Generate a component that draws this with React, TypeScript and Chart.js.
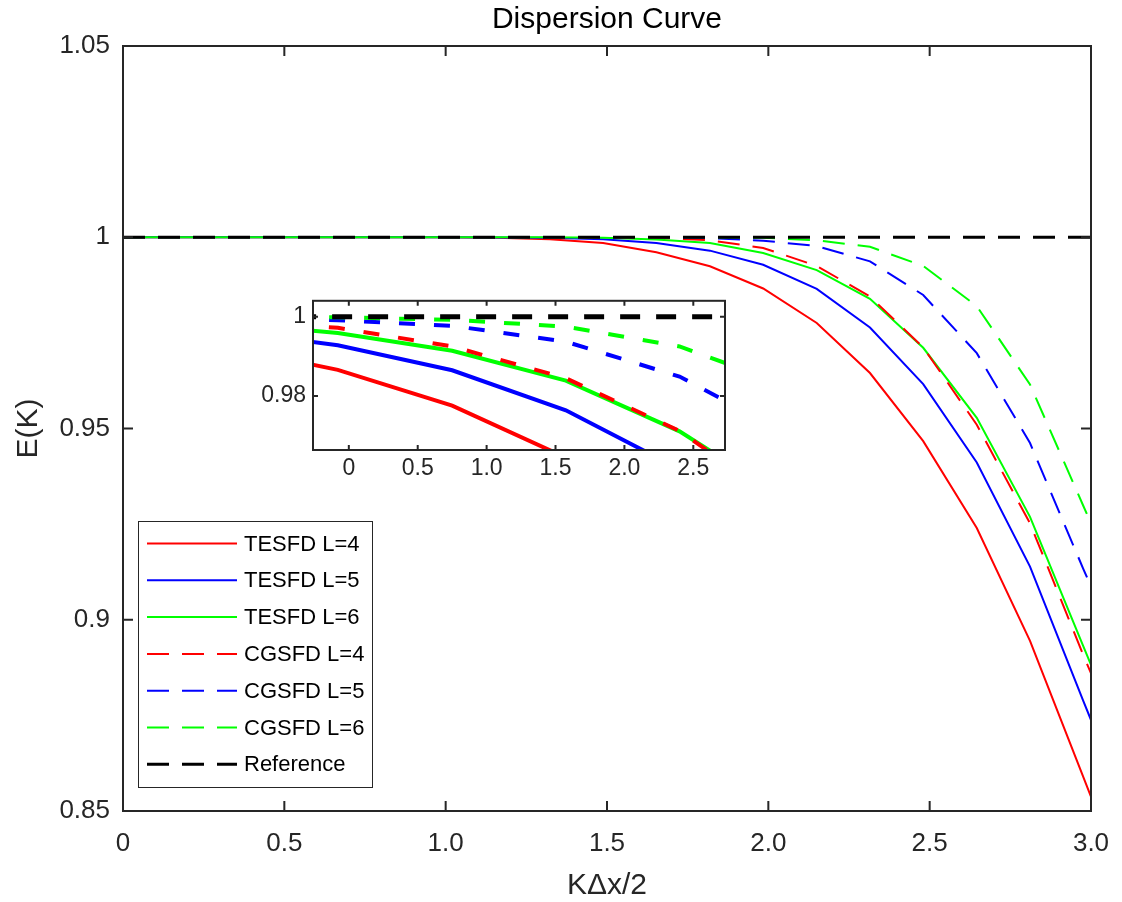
import React, { useEffect, useRef } from 'react';
import { Chart, registerables } from 'chart.js';

Chart.register(...registerables);

// ---------- data ----------
const xValues = [0, 0.165, 0.331, 0.496, 0.661, 0.827, 0.992, 1.158, 1.323, 1.488, 1.653, 1.819, 1.984, 2.15, 2.315, 2.48, 2.646, 2.811, 2.976, 3.142];

const tesfdL4 = [1, 1, 1, 1, 1, 1, 0.99997, 0.9999, 0.9995, 0.9985, 0.9961, 0.9924, 0.9866, 0.9776, 0.9645, 0.9467, 0.924, 0.8945, 0.8589, 0.823];
const tesfdL5 = [1, 1, 1, 1, 1, 1, 1, 0.99995, 0.99985, 0.9995, 0.9985, 0.9965, 0.9928, 0.9865, 0.9764, 0.9616, 0.9411, 0.9139, 0.8788, 0.8441];
const tesfdL6 = [1, 1, 1, 1, 1, 1, 1, 1, 0.99997, 0.99985, 0.9994, 0.9985, 0.9959, 0.9914, 0.9839, 0.9711, 0.9528, 0.9269, 0.8931, 0.8593];
const cgsfdL4 = [1, 1, 1, 1, 1, 1, 1, 1, 0.99998, 0.99993, 0.9999, 0.9992, 0.9972, 0.9925, 0.9845, 0.9712, 0.951, 0.9252, 0.8908, 0.8577];
const cgsfdL5 = [1, 1, 1, 1, 1, 1, 1, 1, 1, 1, 0.99997, 0.9998, 0.9991, 0.9977, 0.9937, 0.9849, 0.9697, 0.9462, 0.9133, 0.8814];
const cgsfdL6 = [1, 1, 1, 1, 1, 1, 1, 1, 1, 1, 1, 0.99997, 0.99985, 0.9992, 0.9975, 0.9925, 0.982, 0.9615, 0.9298, 0.8982];
const referenceValues = [1, 1, 1, 1, 1, 1, 1, 1, 1, 1, 1, 1, 1, 1, 1, 1, 1, 1, 1, 1];

const seriesLabels = ['TESFD L=4', 'TESFD L=5', 'TESFD L=6', 'CGSFD L=4', 'CGSFD L=5', 'CGSFD L=6', 'Reference'];

// main axes ticks
const xTickValues = [0, 0.5, 1, 1.5, 2, 2.5, 3];
const xTickLabels = ['0', '0.5', '1.0', '1.5', '2.0', '2.5', '3.0'];
const yTickValues = [0.85, 0.9, 0.95, 1, 1.05];
const yTickLabels = ['0.85', '0.9', '0.95', '1', '1.05'];

// inset axes ticks
const insetXTickValues = [2.0, 2.1, 2.2, 2.3, 2.4, 2.5];
const insetXTickLabels = ['0', '0.5', '1.0', '1.5', '2.0', '2.5'];
const insetYTickValues = [0.98, 1];
const insetYTickLabels = ['0.98', '1'];

// ---------- styles ----------
const seriesValues = [tesfdL4, tesfdL5, tesfdL6, cgsfdL4, cgsfdL5, cgsfdL6, referenceValues];
const seriesColors = ['#ff0000', '#0000ff', '#00ff00', '#ff0000', '#0000ff', '#00ff00', '#000000'];
const seriesDashed = [false, false, false, true, true, true, true];

const FONT = '"Liberation Sans", Arial, Helvetica, sans-serif';
const AXIS_COLOR = '#262626';

type Style = { width: number; refWidth: number; dash: number[]; refDash: number[] };

function makeDatasets(st: Style) {
  return seriesLabels.map((label, i) => {
    const isRef = i === seriesLabels.length - 1;
    return {
      label,
      data: xValues.map((x, j) => ({ x, y: seriesValues[i][j] })),
      borderColor: seriesColors[i],
      backgroundColor: seriesColors[i],
      borderWidth: isRef ? st.refWidth : st.width,
      borderDash: seriesDashed[i] ? (isRef ? st.refDash : st.dash) : [],
      pointRadius: 0,
      pointHoverRadius: 0,
      tension: 0,
      fill: false,
      clip: 0,
      order: seriesLabels.length - 1 - i,
    };
  });
}

function framePlugin(opts: { tickLen: number; bg: boolean; legend: boolean; texts: boolean }) {
  return {
    id: 'frameDeco',
    beforeDatasetsDraw(chart: any) {
      if (!opts.bg) return;
      const { ctx, chartArea: a } = chart;
      ctx.save();
      ctx.fillStyle = '#ffffff';
      ctx.fillRect(a.left, a.top, a.right - a.left, a.bottom - a.top);
      ctx.restore();
    },
    afterDraw(chart: any) {
      const { ctx, chartArea: a, scales } = chart;
      ctx.save();
      ctx.strokeStyle = AXIS_COLOR;
      ctx.lineWidth = 2;
      ctx.setLineDash([]);
      ctx.strokeRect(a.left, a.top, a.right - a.left, a.bottom - a.top);
      const tl = opts.tickLen;
      ctx.beginPath();
      scales.x.ticks.forEach((t: any) => {
        const px = scales.x.getPixelForValue(t.value);
        ctx.moveTo(px, a.bottom);
        ctx.lineTo(px, a.bottom - tl);
        ctx.moveTo(px, a.top);
        ctx.lineTo(px, a.top + tl);
      });
      scales.y.ticks.forEach((t: any) => {
        const py = scales.y.getPixelForValue(t.value);
        ctx.moveTo(a.left, py);
        ctx.lineTo(a.left + tl, py);
        ctx.moveTo(a.right, py);
        ctx.lineTo(a.right - tl, py);
      });
      ctx.stroke();

      if (opts.texts) {
        const cx = (a.left + a.right) / 2;
        ctx.fillStyle = '#000000';
        ctx.font = `30px ${FONT}`;
        ctx.textAlign = 'center';
        ctx.textBaseline = 'middle';
        ctx.fillText('Dispersion Curve', cx, 20);
        ctx.fillStyle = AXIS_COLOR;
        ctx.font = `30px ${FONT}`;
        ctx.fillText('KΔx/2', cx, 886);
        ctx.save();
        ctx.translate(29, (a.top + a.bottom) / 2);
        ctx.rotate(-Math.PI / 2);
        ctx.fillText('E(K)', 0, 0);
        ctx.restore();
      }

      if (opts.legend) {
        const bx = 138, by = 521, bw = 234, bh = 266;
        ctx.fillStyle = '#ffffff';
        ctx.fillRect(bx, by, bw, bh);
        ctx.strokeStyle = AXIS_COLOR;
        ctx.lineWidth = 1;
        ctx.strokeRect(bx + 0.5, by + 0.5, bw, bh);
        ctx.font = `22px ${FONT}`;
        ctx.textAlign = 'left';
        ctx.textBaseline = 'middle';
        chart.data.datasets.forEach((ds: any, i: number) => {
          const y = by + 22.5 + i * 36.8;
          ctx.strokeStyle = ds.borderColor;
          ctx.lineWidth = ds.borderWidth;
          ctx.setLineDash(ds.borderDash || []);
          ctx.beginPath();
          ctx.moveTo(147, y);
          ctx.lineTo(237, y);
          ctx.stroke();
          ctx.setLineDash([]);
          ctx.fillStyle = '#000000';
          ctx.fillText(ds.label, 244, y + 1);
        });
      }
      ctx.restore();
    },
  };
}

function mainConfig(): any {
  return {
    type: 'line',
    data: { datasets: makeDatasets({ width: 2, refWidth: 3, dash: [22, 13], refDash: [22, 13] }) },
    options: {
      animation: false,
      responsive: false,
      devicePixelRatio: 1,
      events: [],
      layout: { padding: { left: 0, right: 31, top: 46, bottom: 31 } },
      plugins: { legend: { display: false }, tooltip: { enabled: false }, title: { display: false } },
      scales: {
        x: {
          type: 'linear',
          min: 0,
          max: 3,
          afterBuildTicks: (s: any) => { s.ticks = xTickValues.map((v) => ({ value: v })); },
          afterFit: (s: any) => { s.height = 60; },
          ticks: {
            callback: (_v: any, i: number) => xTickLabels[i],
            font: { size: 26, family: FONT },
            color: AXIS_COLOR,
            padding: 2,
            maxRotation: 0,
            autoSkip: false,
          },
          grid: { display: false, drawTicks: true, tickLength: 15 },
          border: { display: false },
        },
        y: {
          type: 'linear',
          min: 0.85,
          max: 1.05,
          afterBuildTicks: (s: any) => { s.ticks = yTickValues.map((v) => ({ value: v })); },
          afterFit: (s: any) => { s.width = 123; },
          ticks: {
            callback: (_v: any, i: number) => yTickLabels[i],
            font: { size: 26, family: FONT },
            color: AXIS_COLOR,
            padding: 2,
            autoSkip: false,
          },
          grid: { display: false, drawTicks: true, tickLength: 11 },
          border: { display: false },
        },
      },
    },
    plugins: [framePlugin({ tickLen: 10, bg: false, legend: true, texts: true })],
  };
}

function insetConfig(): any {
  return {
    type: 'line',
    data: { datasets: makeDatasets({ width: 4, refWidth: 5, dash: [16, 19], refDash: [20, 16] }) },
    options: {
      animation: false,
      responsive: false,
      devicePixelRatio: 1,
      events: [],
      layout: { padding: { left: 0, right: 15, top: 11, bottom: 0 } },
      plugins: { legend: { display: false }, tooltip: { enabled: false }, title: { display: false } },
      scales: {
        x: {
          type: 'linear',
          min: 1.948,
          max: 2.546,
          afterBuildTicks: (s: any) => { s.ticks = insetXTickValues.map((v) => ({ value: v })); },
          afterFit: (s: any) => { s.height = 40; },
          ticks: {
            callback: (_v: any, i: number) => insetXTickLabels[i],
            font: { size: 23, family: FONT },
            color: AXIS_COLOR,
            padding: 5,
            maxRotation: 0,
            autoSkip: false,
          },
          grid: { display: false, drawTicks: false },
          border: { display: false },
        },
        y: {
          type: 'linear',
          min: 0.9664,
          max: 1.004,
          afterBuildTicks: (s: any) => { s.ticks = insetYTickValues.map((v) => ({ value: v })); },
          afterFit: (s: any) => { s.width = 63; },
          ticks: {
            callback: (_v: any, i: number) => insetYTickLabels[i],
            font: { size: 23, family: FONT },
            color: AXIS_COLOR,
            padding: 7,
            autoSkip: false,
          },
          grid: { display: false, drawTicks: false },
          border: { display: false },
        },
      },
    },
    plugins: [framePlugin({ tickLen: 5, bg: true, legend: false, texts: false })],
  };
}

export default function App() {
  const mainRef = useRef<HTMLCanvasElement>(null);
  const insetRef = useRef<HTMLCanvasElement>(null);

  useEffect(() => {
    const main = new Chart(mainRef.current as HTMLCanvasElement, mainConfig());
    const inset = new Chart(insetRef.current as HTMLCanvasElement, insetConfig());
    return () => {
      main.destroy();
      inset.destroy();
    };
  }, []);

  return (
    <div style={{ position: 'absolute', left: 0, top: 0, width: 1122, height: 902, background: '#ffffff' }}>
      <canvas ref={mainRef} width={1122} height={902} style={{ position: 'absolute', left: 0, top: 0 }} />
      <canvas ref={insetRef} width={490} height={210} style={{ position: 'absolute', left: 250, top: 280 }} />
    </div>
  );
}
